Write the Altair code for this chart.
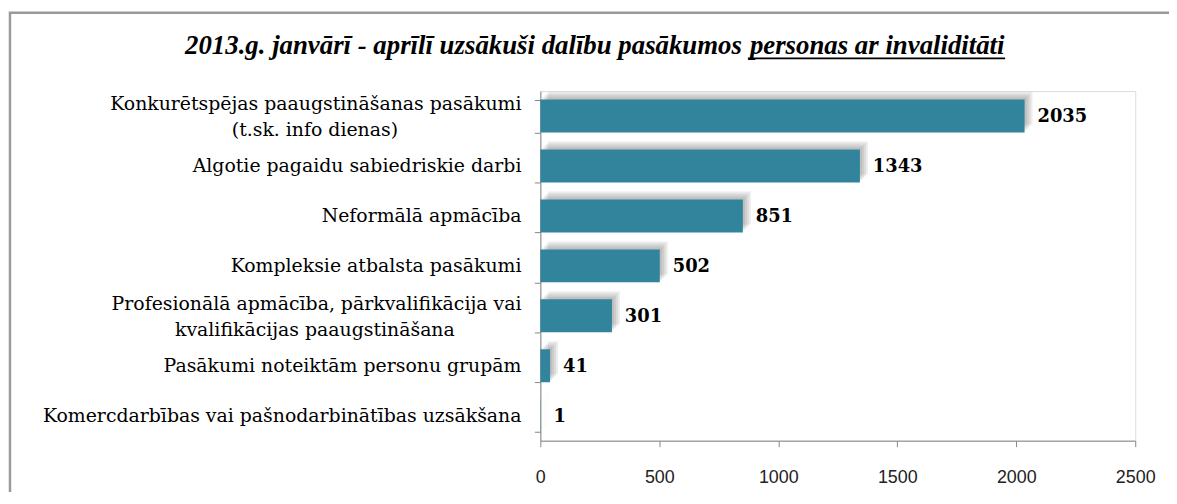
import altair as alt
import pandas as pd

categories = [
    "Konkurētspējas paaugstināšanas pasākumi (t.sk. info dienas)",
    "Algotie pagaidu sabiedriskie darbi",
    "Neformālā apmācība",
    "Kompleksie atbalsta pasākumi",
    "Profesionālā apmācība, pārkvalifikācija vai kvalifikācijas paaugstināšana",
    "Pasākumi noteiktām personu grupām",
    "Komercdarbības vai pašnodarbinātības uzsākšana",
]
label_line1 = [
    "Konkurētspējas paaugstināšanas pasākumi",
    "Algotie pagaidu sabiedriskie darbi",
    "Neformālā apmācība",
    "Kompleksie atbalsta pasākumi",
    "Profesionālā apmācība, pārkvalifikācija vai",
    "Pasākumi noteiktām personu grupām",
    "Komercdarbības vai pašnodarbinātības uzsākšana",
]
label_line2 = [
    "(t.sk. info dienas)",
    "",
    "",
    "",
    "kvalifikācijas paaugstināšana",
    "",
    "",
]
values = [2035, 1343, 851, 502, 301, 41, 1]
x_ticks = [0, 500, 1000, 1500, 2000, 2500]

title_part1 = "2013.g. janvārī - aprīlī uzsākuši dalību pasākumos"
title_part2 = "personas ar invaliditāti"

df = pd.DataFrame({"cat": categories, "val": values, "l1": label_line1, "l2": label_line2})

W, H = 599, 352
LABEL_FONT = "DejaVu Serif"
LABEL_SIZE = 19

y_enc = alt.Y(
    "cat:N",
    sort=categories,
    scale=alt.Scale(paddingInner=0.34, paddingOuter=0.17),
    axis=alt.Axis(
        title=None,
        labels=False,
        tickBand="extent",
        tickSize=6,
        tickColor="#868686",
        domainColor="#868686",
        grid=False,
    ),
)

x_enc = alt.X(
    "val:Q",
    scale=alt.Scale(domain=[0, 2500], nice=False),
    axis=alt.Axis(
        title=None,
        values=x_ticks,
        format="d",
        labelFont="Liberation Sans",
        labelFontSize=18,
        labelColor="#222222",
        labelPadding=22,
        labelFlush=False,
        tickSize=6,
        tickColor="#868686",
        domainColor="#868686",
        grid=False,
    ),
)

base = alt.Chart(df)
ycat = alt.Y("cat:N", sort=categories)

shadows = [
    base.mark_bar(color="#505050", opacity=0.11, xOffset=o, x2Offset=o, yOffset=-o, y2Offset=-o)
    .encode(x=alt.X("val:Q"), y=ycat)
    for o in (2, 4, 6, 8)
]

bars = base.mark_bar(color="#31849B").encode(x=x_enc, y=y_enc)

labels = base.mark_text(
    align="left", baseline="middle", dx=13, dy=1,
    font="DejaVu Serif", fontSize=18, fontWeight="bold", color="#000000",
).encode(x="val:Q", y=ycat, text="val:Q")

text_style = dict(font=LABEL_FONT, fontSize=LABEL_SIZE, color="#000000", baseline="middle")
single = base.transform_filter("datum.l2 == ''").mark_text(align="right", **text_style).encode(
    y=ycat, x=alt.value(-19), text="l1:N"
)
double1 = base.transform_filter("datum.l2 != ''").mark_text(align="right", dy=-12, **text_style).encode(
    y=ycat, x=alt.value(-19), text="l1:N"
)
double2 = base.transform_filter("datum.l2 != ''").mark_text(align="center", dy=14, **text_style).encode(
    y=ycat, x=alt.value(-227), text="l2:N"
)

title_df = pd.DataFrame({"p1": [title_part1], "p2": [title_part2]})
title_style = dict(baseline="alphabetic", font="Liberation Serif, Times New Roman, serif", fontSize=27,
                   fontStyle="italic", fontWeight="bold", color="#000000")
t1 = alt.Chart(title_df).mark_text(align="right", **title_style).encode(
    text="p1:N", x=alt.value(203), y=alt.value(-37))
t2 = alt.Chart(title_df).mark_text(align="left", **title_style).encode(
    text="p2:N", x=alt.value(211), y=alt.value(-37))
underline = alt.Chart(title_df).mark_rule(color="#000000", strokeWidth=1.8).encode(
    x=alt.value(209), x2=alt.value(468), y=alt.value(-33)
)

border = alt.Chart(title_df).mark_rect(
    fill=None, stroke="#9a9a9a", strokeWidth=2.5
).encode(x=alt.value(-534), x2=alt.value(900), y=alt.value(-79), y2=alt.value(600))

chart = alt.layer(border, *shadows, bars, labels, single, double1, double2, t1, t2, underline).properties(
    width=W,
    height=H,
    autosize=alt.AutoSizeParams(type="none"),
    padding={"left": 536, "top": 82, "right": 34, "bottom": 50},
).configure_view(stroke=None).configure(background="white")

chart.save("out.html", embed_options={"renderer": "svg", "actions": False})
